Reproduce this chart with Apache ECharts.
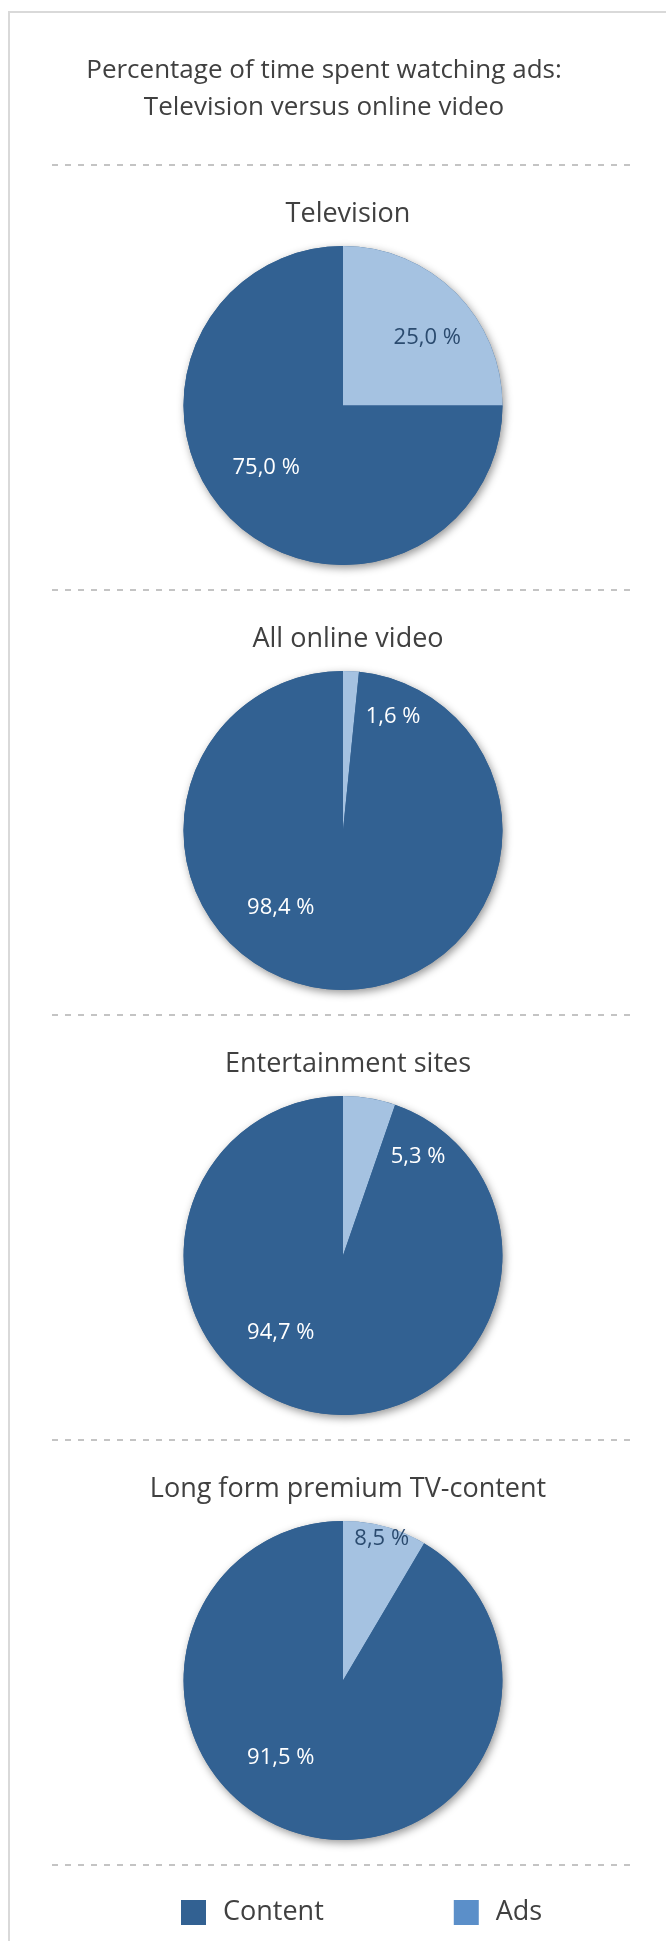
<!DOCTYPE html>
<html>
<head>
<meta charset="utf-8">
<title>Percentage of time spent watching ads</title>
<script src="https://cdn.jsdelivr.net/npm/echarts@6/dist/echarts.min.js"></script>
<style>
  html, body { margin: 0; padding: 0; background: #ffffff; }
  #chart { width: 666px; height: 1941px; }
</style>
</head>
<body>
<div id="chart"></div>
<script>
// Share of viewing time taken up by ads, per medium (percent)
const chartTitle = 'Percentage of time spent watching ads:\nTelevision versus online video';
const panels = ['Television', 'All online video', 'Entertainment sites', 'Long form premium TV-content'];
const adsShare = [25.0, 1.6, 5.3, 8.5];
const contentShare = [75.0, 98.4, 94.7, 91.5];
const sliceNames = ['Content', 'Ads'];

const FONT = '"Open Sans", "Noto Sans", sans-serif';
const TEXT = '#404040';
const DARK = '#326192';
const LIGHT = '#a5c2e1';
const LEGEND_ADS = '#5b8fc9';

// vertical layout of the stacked panels
const firstRule = 165;
const rowStep = 425;
const cx = 343;
const radius = 159.5;

const fmt = v => v.toFixed(1).replace('.', ',') + ' %';

// where a slice label sits: angle clockwise from 12 o'clock and distance as share of radius
function labelSpot(ads, isAds) {
  const sweep = ads / 100 * 360;
  if (isAds) {
    if (ads >= 20) return { angle: sweep / 2 + 6, dist: 0.68, inSlice: true };
    if (ads >= 8) return { angle: sweep / 2, dist: 0.92, inSlice: true };
    // too thin to hold its label: put it just clockwise of the slice
    return { angle: sweep + 18, dist: 0.78, inSlice: false };
  }
  // the Content label is kept in the lower-left part of the disc
  return { angle: Math.max(186 + sweep / 2, 219), dist: 0.62, inSlice: false };
}

const series = [];
const titles = [{
  text: chartTitle,
  left: 319,
  textAlign: 'center',
  top: 47,
  textStyle: { fontFamily: FONT, fontSize: 26, fontWeight: 'normal', color: TEXT, lineHeight: 37 }
}];
const graphics = [{
  type: 'rect',
  silent: true,
  shape: { x: 9, y: 12, width: 720, height: 2000 },
  style: { fill: 'none', stroke: '#d9d9d9', lineWidth: 2 }
}];

panels.forEach((name, i) => {
  const top = firstRule + rowStep * i;
  const cy = top + 240.5;

  graphics.push({
    type: 'line', silent: true,
    shape: { x1: 52, y1: top, x2: 634, y2: top },
    style: { stroke: '#c4c4c4', lineWidth: 2, lineDash: [6, 7] }
  });

  titles.push({
    text: name,
    left: cx,
    textAlign: 'center',
    top: top + 30,
    textStyle: { fontFamily: FONT, fontSize: 27, fontWeight: 'normal', color: TEXT, lineHeight: 28 }
  });

  // soft drop shadow under the whole disc
  series.push({
    type: 'pie',
    name: name + ' shadow',
    silent: true,
    z: 1,
    center: [cx, cy],
    radius: [0, radius],
    animation: false,
    label: { show: false },
    labelLine: { show: false },
    itemStyle: {
      color: DARK,
      shadowBlur: 9,
      shadowOffsetX: 2,
      shadowOffsetY: 3,
      shadowColor: 'rgba(0,0,0,0.42)'
    },
    data: [{ name: name, value: adsShare[i] + contentShare[i] }]
  });

  const spots = [labelSpot(adsShare[i], true), labelSpot(adsShare[i], false)];

  series.push({
    type: 'pie',
    name: name,
    z: 2,
    center: [cx, cy],
    radius: [0, radius],
    startAngle: 90,
    clockwise: true,
    animation: false,
    avoidLabelOverlap: false,
    emphasis: { scale: false },
    itemStyle: { borderWidth: 0 },
    labelLine: { show: false },
    label: {
      show: true,
      position: 'center',
      fontFamily: FONT,
      fontSize: 22,
      formatter: p => fmt(p.value)
    },
    labelLayout: params => {
      const s = spots[params.dataIndex];
      const a = s.angle * Math.PI / 180;
      return {
        x: cx + Math.sin(a) * s.dist * radius,
        y: cy - Math.cos(a) * s.dist * radius,
        align: 'center',
        verticalAlign: 'middle'
      };
    },
    data: [
      { name: sliceNames[1], value: adsShare[i], itemStyle: { color: LIGHT },
        label: { color: spots[0].inSlice ? '#2b4b6f' : '#ffffff' } },
      { name: sliceNames[0], value: contentShare[i], itemStyle: { color: DARK },
        label: { color: '#ffffff' } }
    ]
  });
});

// closing rule above the legend
graphics.push({
  type: 'line', silent: true,
  shape: { x1: 52, y1: firstRule + rowStep * 4, x2: 634, y2: firstRule + rowStep * 4 },
  style: { stroke: '#c4c4c4', lineWidth: 2, lineDash: [6, 7] }
});

const chart = echarts.init(document.getElementById('chart'), null, { renderer: 'canvas' });
chart.setOption({
  backgroundColor: '#ffffff',
  animation: false,
  title: titles,
  graphic: graphics,
  legend: {
    left: 176,
    top: firstRule + rowStep * 4 + 29,
    itemWidth: 25,
    itemHeight: 25,
    itemGap: 130,
    icon: 'rect',
    selectedMode: false,
    textStyle: { fontFamily: FONT, fontSize: 27, color: TEXT, padding: [0, 0, 0, 12] },
    data: [
      { name: sliceNames[0], itemStyle: { color: DARK } },
      { name: sliceNames[1], itemStyle: { color: LEGEND_ADS } }
    ]
  },
  series: series
});
</script>
</body>
</html>
